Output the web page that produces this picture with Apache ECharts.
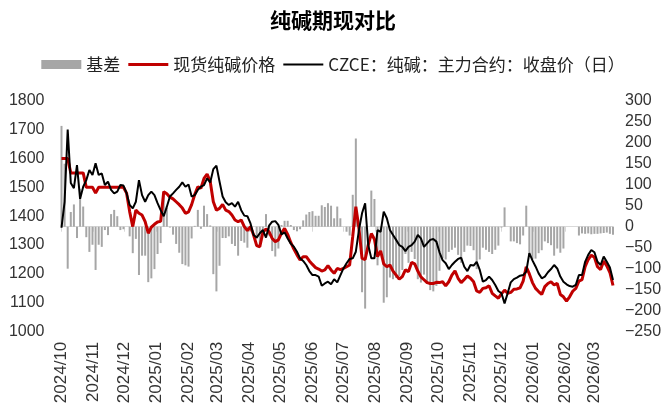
<!DOCTYPE html>
<html>
<head>
<meta charset="utf-8">
<script src="https://cdn.jsdelivr.net/npm/echarts@6/dist/echarts.min.js"></script>
<style>
  html, body { margin: 0; padding: 0; background: #fff; }
  #chart { width: 666px; height: 412px; }
</style>
</head>
<body>
<div id="chart"></div>
<script>
// 日期轴：从 2024-10-01 开始逐日，读数每 3 天取一个点
const startDate = '2024-10-01'
const dayCount = 535
const sampleStep = 3

// CZCE 纯碱主力合约收盘价
const futures = [1360,1450,1700,1515,1497,1577,1460,1502,1525,1560,
  1543,1583,1543,1548,1508,1520,1491,1479,1485,1508,
  1506,1480,1439,1427,1450,1525,1473,1450,1473,1485,
  1473,1445,1421,1400,1433,1468,1479,1491,1502,1517,
  1502,1510,1468,1473,1491,1502,1508,1531,1517,1563,
  1575,1520,1468,1448,1439,1445,1433,1450,1421,1402,
  1400,1375,1335,1326,1341,1352,1326,1367,1381,1383,
  1370,1337,1344,1323,1305,1294,1277,1254,1245,1231,
  1210,1196,1196,1191,1159,1167,1173,1164,1182,1171,
  1195,1219,1237,1252,1254,1277,1352,1410,1445,1300,
  1254,1254,1352,1346,1416,1393,1352,1335,1318,1300,
  1294,1279,1294,1300,1312,1335,1323,1294,1306,1318,
  1321,1312,1275,1248,1237,1217,1231,1242,1252,1256,
  1225,1210,1231,1229,1242,1214,1173,1179,1191,1179,
  1162,1141,1133,1098,1133,1171,1182,1187,1194,1196,
  1208,1272,1247,1226,1202,1185,1191,1206,1217,1231,
  1219,1191,1173,1164,1158,1156,1162,1196,1196,1242,
  1266,1283,1275,1242,1231,1260,1242,1222,1179]

// 现货纯碱价格
const spot = [1600,1600,1600,1550,1550,1550,1550,1550,1500,1500,
  1500,1480,1500,1500,1500,1500,1500,1500,1500,1500,
  1500,1480,1416,1364,1421,1410,1404,1381,1341,1362,
  1372,1380,1382,1485,1478,1466,1460,1450,1440,1428,
  1410,1415,1440,1475,1502,1497,1531,1546,1520,1450,
  1421,1427,1441,1421,1416,1404,1387,1381,1387,1364,
  1350,1364,1335,1298,1294,1344,1356,1346,1323,1312,
  1318,1341,1358,1337,1309,1286,1266,1248,1260,1260,
  1245,1233,1222,1217,1210,1214,1229,1214,1202,1219,
  1215,1219,1225,1231,1330,1433,1358,1254,1250,1300,
  1340,1320,1260,1280,1235,1225,1231,1210,1196,1182,
  1191,1214,1208,1240,1235,1210,1190,1180,1170,1167,
  1167,1171,1170,1173,1159,1173,1196,1211,1185,1170,
  1181,1193,1185,1173,1141,1136,1150,1152,1159,1133,
  1124,1116,1131,1144,1133,1136,1147,1148,1152,1175,
  1225,1200,1170,1150,1139,1129,1156,1167,1173,1162,
  1167,1129,1121,1106,1121,1140,1150,1175,1180,1225,
  1250,1265,1258,1225,1215,1245,1228,1205,1160]

// 基差
const basis = [240,150,-100,35,53,-27,90,48,-25,-60,
  -43,-103,-43,-48,-8,-20,30,40,25,-8,
  -6,0,-23,-63,-29,-115,-69,-69,-132,-123,
  -101,-65,-39,85,45,-2,-19,-41,-62,-89,
  -92,-95,-28,2,40,-5,50,30,3,-113,
  -154,-93,-27,-27,-23,-41,-46,-69,-34,-38,
  -50,-11,0,-28,-47,-8,30,-21,-58,-71,
  -52,4,14,14,4,-8,-11,-6,15,29,
  35,37,26,26,51,47,56,50,20,48,
  20,0,-12,-21,76,210,6,-156,-195,0,
  86,66,-92,-66,-181,-168,-121,-125,-122,-118,
  -103,-65,-86,-60,-77,-125,-133,-114,-136,-151,
  -154,-141,-105,-75,-78,-60,-55,-50,-67,-86,
  -60,-45,-46,-56,-101,-78,-50,-55,-60,-65,
  -55,-45,-2,46,0,-35,-35,-39,-42,-21,
  50,-72,-77,-76,-63,-56,-35,-39,-44,-69,
  -52,-62,-52,null,null,null,null,-21,-16,-17,
  -16,-18,-17,-17,-16,-15,-14,-17,-19]

const leftTicks = {min: 1000, max: 1800, interval: 100}
const rightTicks = {min: -250, max: 300, interval: 50}

// 生成逐日类目
const dates = []
const d0 = new Date(startDate + 'T00:00:00Z')
for (let k = 0; k < dayCount; k++) {
  const d = new Date(d0.getTime() + k * 86400000)
  dates.push(d.toISOString().slice(0, 10))
}

// 把取样点放到对应日期上，其余为空
const spread = (arr) => {
  const res = new Array(dayCount).fill(null)
  arr.forEach((v, i) => { res[i * sampleStep] = v })
  return res
}

const isMonthStart = (idx, val) => val.slice(8, 10) === '01'
const plain = (v) => String(v).replace('-', '\u2212')

const chart = echarts.init(document.getElementById('chart'))
chart.setOption({
  animation: false,
  backgroundColor: '#fff',
  title: {
    text: '纯碱期现对比',
    left: 'center',
    top: 5,
    textStyle: {fontSize: 21, fontWeight: 'bold', color: '#000', fontFamily: 'Noto Sans CJK SC'}
  },
  legend: {
    top: 51,
    left: 'center',
    itemWidth: 40,
    itemHeight: 9,
    itemGap: 8,
    symbolKeepAspect: true,
    textStyle: {fontSize: 17, color: '#222', fontFamily: 'Noto Sans CJK SC'},
    data: [
      {name: '基差', icon: 'rect'},
      {name: '现货纯碱价格', icon: 'path://M0,0H40V3H0Z'},
      {name: 'CZCE：纯碱：主力合约：收盘价（日）', icon: 'path://M0,0H40V2H0Z'}
    ]
  },
  grid: {left: 61.5, right: 53, top: 100.7, bottom: 80.3},
  xAxis: {
    type: 'category',
    data: dates,
    boundaryGap: false,
    axisLine: {lineStyle: {color: '#d9d9d9', width: 1}},
    axisTick: {show: true, interval: isMonthStart, length: 5, lineStyle: {color: '#d9d9d9'}},
    axisLabel: {
      interval: isMonthStart,
      rotate: 90,
      margin: 10,
      fontSize: 17,
      color: '#333',
      fontFamily: 'Liberation Sans',
      formatter: (v) => v.slice(0, 4) + '/' + v.slice(5, 7)
    },
    splitLine: {show: false}
  },
  yAxis: [
    {
      type: 'value',
      position: 'left',
      ...leftTicks,
      axisLine: {show: false},
      axisTick: {show: false},
      splitLine: {show: false},
      axisLabel: {fontSize: 16, color: '#333', margin: 17, fontFamily: 'Liberation Sans', formatter: plain}
    },
    {
      type: 'value',
      position: 'right',
      ...rightTicks,
      axisLine: {show: false},
      axisTick: {show: false},
      splitLine: {show: false},
      axisLabel: {fontSize: 16, color: '#333', margin: 12, fontFamily: 'Liberation Sans', formatter: plain}
    }
  ],
  series: [
    {
      name: '基差',
      type: 'bar',
      yAxisIndex: 1,
      data: spread(basis),
      barWidth: 2,
      itemStyle: {color: '#a6a6a6'}
    },
    {
      name: '现货纯碱价格',
      type: 'line',
      data: spread(spot),
      connectNulls: true,
      symbol: 'none',
      itemStyle: {color: '#c00000'},
      lineStyle: {color: '#c00000', width: 3}
    },
    {
      name: 'CZCE：纯碱：主力合约：收盘价（日）',
      type: 'line',
      data: spread(futures),
      connectNulls: true,
      symbol: 'none',
      itemStyle: {color: '#000'},
      lineStyle: {color: '#000', width: 2}
    }
  ]
})
</script>
</body>
</html>
